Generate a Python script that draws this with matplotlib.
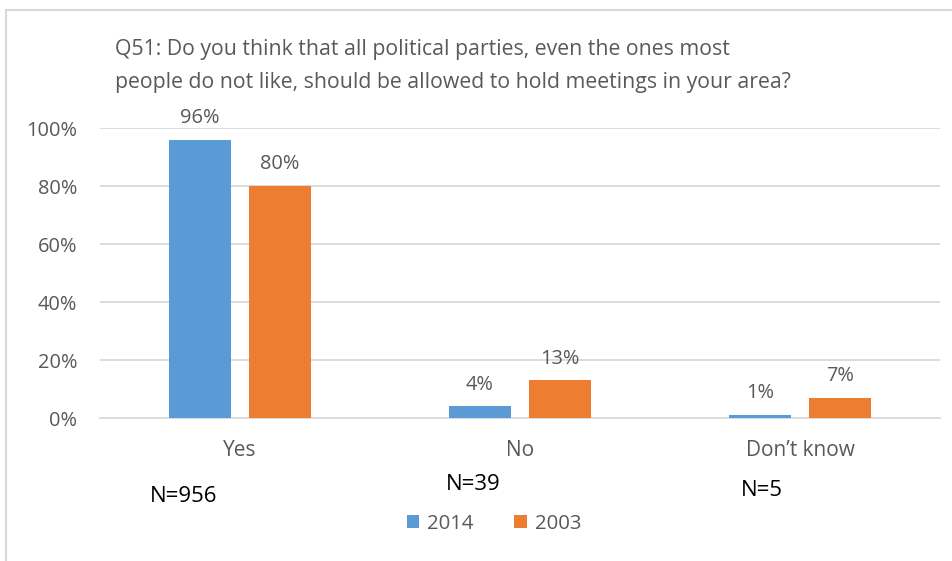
import matplotlib
matplotlib.use("Agg")
import matplotlib.pyplot as plt
from matplotlib.patches import Patch, Rectangle
import numpy as np

plt.rcParams['font.family'] = ['Open Sans', 'DejaVu Sans']

categories = ["Yes", "No", "Don\u2019t know"]
series_names = ["2014", "2003"]
values_2014 = [96, 4, 1]
values_2003 = [80, 13, 7]
n_labels = ["N=956", "N=39", "N=5"]
y_ticks = [0, 20, 40, 60, 80, 100]
title_lines = ["Q51: Do you think that all political parties, even the ones most",
               "people do not like, should be allowed to hold meetings in your area?"]

c_blue = "#5B9BD5"
c_orange = "#ED7D31"
c_text = "#595959"
c_grid = "#D9D9D9"

W, H = 952, 561
fig = plt.figure(figsize=(W / 100, H / 100), dpi=100)

def fx(px):
    return px / W

def fy(py):
    return 1 - py / H

# border
fig.patches.append(Rectangle((fx(6), fy(575)), fx(960) - fx(6), fy(10) - fy(575),
                             transform=fig.transFigure, fill=False,
                             edgecolor=c_grid, linewidth=1.5))

ax = fig.add_axes([fx(100), fy(418), fx(940) - fx(100), fy(128) - fy(418)])
x = np.arange(len(categories))
bw = 0.22
off = 0.143
b1 = ax.bar(x - off, values_2014, bw, color=c_blue, zorder=3)
b2 = ax.bar(x + off, values_2003, bw, color=c_orange, zorder=3)

for bars, vals in ((b1, values_2014), (b2, values_2003)):
    for rect, v in zip(bars, vals):
        ax.annotate(f"{v}%", (rect.get_x() + rect.get_width() / 2, v),
                    xytext=(0, 12.0), textcoords="offset points",
                    ha="center", va="baseline", fontsize=14.4, color=c_text)

ax.set_xlim(-0.5, 2.5)
ax.set_ylim(0, 100)
ax.set_yticks(y_ticks)
ax.set_yticklabels([f"{t}%" for t in y_ticks])
ax.set_xticks(x)
ax.set_xticklabels(categories)
ax.tick_params(axis="y", length=0, pad=16.5, labelsize=14.4, labelcolor=c_text)
ax.tick_params(axis="x", length=0, pad=16, labelsize=15, labelcolor=c_text)
ax.grid(axis="y", color=c_grid, linewidth=1.3, zorder=0)
for s in ("top", "right", "left"):
    ax.spines[s].set_visible(False)
ax.spines["bottom"].set_color(c_grid)
ax.spines["bottom"].set_linewidth(1.3)
ax.set_axisbelow(True)

# title
fig.text(fx(115), fy(55), title_lines[0], fontsize=15.3, color=c_text, va="baseline", ha="left")
fig.text(fx(115), fy(88), title_lines[1], fontsize=15.3, color=c_text, va="baseline", ha="left")

# N labels
n_pos = [(150, 497), (446, 485), (741, 491)]
for lab, (px, py) in zip(n_labels, n_pos):
    fig.text(fx(px), fy(py), lab, fontsize=16, color="black", ha="left", va="center")

# legend
handles = [Patch(facecolor=c_blue), Patch(facecolor=c_orange)]
fig.legend(handles, series_names, loc="center", bbox_to_anchor=(fx(494), fy(524)),
           ncol=2, frameon=False, fontsize=14.7, labelcolor=c_text,
           handlelength=0.6, handleheight=0.6, handletextpad=0.4, columnspacing=2.0,
           borderpad=0, borderaxespad=0)

fig.savefig("out.png", dpi=100)
